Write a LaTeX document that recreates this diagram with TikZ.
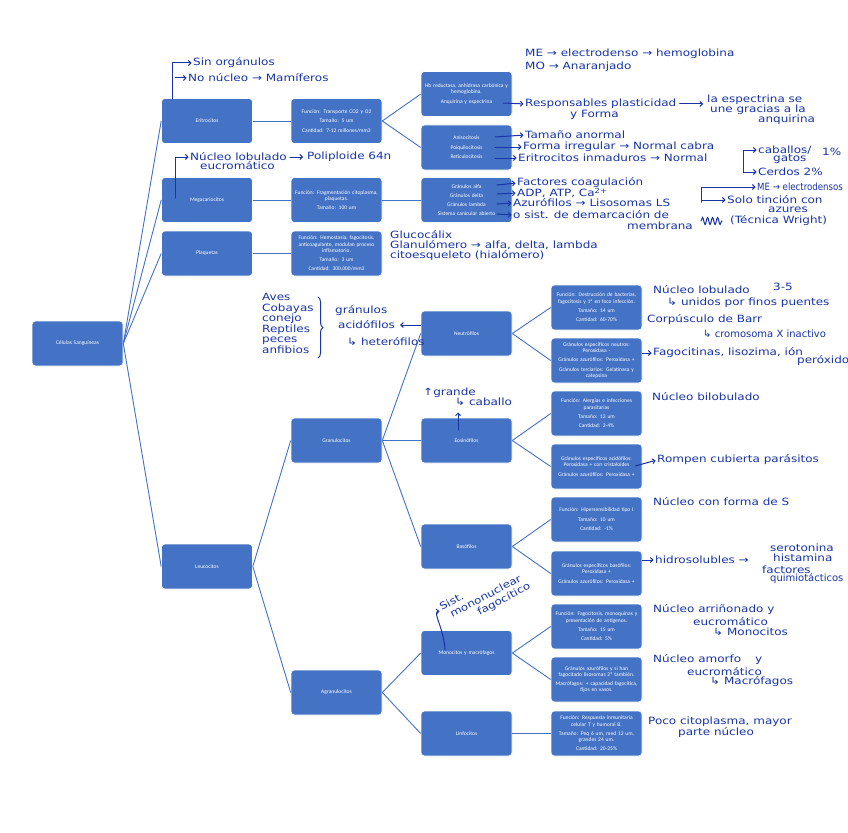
\documentclass[tikz,border=0pt]{standalone}
\usepackage{fontspec}
\setmainfont{Carlito}
\newfontfamily\bxfam{Carlito}
\newfontfamily\handfam[FakeStretch=1.2]{DejaVu Sans}
\newfontfamily\handcond[FakeStretch=0.86]{DejaVu Sans}
\newfontfamily\handplain{DejaVu Sans}
\usetikzlibrary{arrows.meta,decorations.pathreplacing,decorations.pathmorphing,calc}
\definecolor{boxblue}{RGB}{68,114,196}
\definecolor{ink}{RGB}{24,52,165}
\newcommand\bxfont{\bxfam\fontsize{5.5}{6.2}\selectfont}
\newcommand\hfont{\handfam\fontsize{10}{11}\selectfont}
\newcommand\hcfont{\handcond\fontsize{10}{11}\selectfont}
\newcommand\hpfont{\handplain\fontsize{10}{11}\selectfont}
\begin{document}
\begin{tikzpicture}[x=1pt,y=-1pt,
 box/.style={rectangle, rounded corners=3.5pt, fill=boxblue, draw=white, line width=0.6pt, minimum width=91pt, minimum height=45pt, text width=88pt, align=center, text=white, font=\bxfont, inner sep=0.5pt},
 conn/.style={draw=boxblue, line width=0.9pt},
 hand/.style={text=ink, font=\hfont, anchor=west, inner sep=0pt},
 handc/.style={hand, font=\hcfont},
 handp/.style={hand, font=\hpfont},
 harrow/.style={draw=ink, line width=1pt, line cap=round, -{Straight Barb[length=2.5pt,width=5pt]}, shorten >=1.5pt},
 inkline/.style={draw=ink, line width=1pt, line cap=round}
]
\fill[white] (0,0) rectangle (848,832);
\useasboundingbox (0,0) rectangle (848,832);

% ---------------- boxes ----------------
\node[box] (cel) at (77.5,343.5) {Células Sanguíneas};
\node[box] (eri) at (207,121) {Eritrocitos};
\node[box] (efun) at (336.5,121) {Función: Transporte CO2 y O2\\[3.2pt]Tamaño: 5 um\\[3.2pt]Cantidad: 7-12 millones/mm3};
\node[box] (mb) at (466.5,94) {Hb reductasa, anhidrasa carbónica y\\hemoglobina.\\[3.2pt]Anquirina y espectrina};
\node[box] (ani) at (466.5,147.5) {Anisocitosis\\[3.2pt]Poiquilocitosis\\[3.2pt]Reticulocitosis};
\node[box] (meg) at (207,200) {Megacariocitos};
\node[box] (megf) at (336.5,200) {Función: Fragmentación citoplasma,\\plaquetas.\\[3.2pt]Tamaño: 100 um};
\node[box] (gal) at (466.5,200) {Gránulos alfa\\[2.6pt]Gránulos delta\\[2.6pt]Gránulos lambda\\[2.6pt]Sistema canicular abierto};
\node[box] (pla) at (207,253.5) {Plaquetas};
\node[box] (pfun) at (336.5,253.5) {Función: Hemostasia, fagocitosis,\\anticoagulante, modulan proceso\\inflamatorio.\\[3pt]Tamaño: 3 um\\[3pt]Cantidad: 300.000/mm3};
\node[box] (neu) at (466.5,333.5) {Neutrófilos};
\node[box] (nfun) at (596.5,307.5) {Función: Destrucción de bacterias,\\fagocitosis y 1ª en foco infección.\\[3.2pt]Tamaño: 14 um\\[3.2pt]Cantidad: 60-70\%};
\node[box] (ngr) at (596.5,360.5) {Gránulos específicos neutros:\\Peroxidasa -\\[3pt]Gránulos azurófilos: Peroxidasa +\\[3pt]Gránulos terciarios: Gelatinasa y\\catepsina};
\node[box] (gra) at (336.5,440.5) {Granulocitos};
\node[box] (eos) at (466.5,440.5) {Eosinófilos};
\node[box] (efn) at (596.5,413.5) {Función: Alergias e infecciones\\parasitarias\\[3.2pt]Tamaño: 13 um\\[3.2pt]Cantidad: 2-4\%};
\node[box] (egr) at (596.5,466.5) {Gránulos específicos acidófilos:\\Peroxidasa + con cristaloides\\[3.2pt]Gránulos azurófilos: Peroxidasa +};
\node[box] (leu) at (207,566.5) {Leucocitos};
\node[box] (bas) at (466.5,546.5) {Basófilos};
\node[box] (bfn) at (596.5,519.5) {Función: Hipersensibilidad tipo I\\[3.2pt]Tamaño: 10 um\\[3.2pt]Cantidad: -1\%};
\node[box] (bgr) at (596.5,573.5) {Gránulos específicos basófilos:\\Peroxidasa +\\[3.2pt]Gránulos azurófilos: Peroxidasa +};
\node[box] (agr) at (336.5,692.5) {Agranulocitos};
\node[box] (mon) at (466.5,653) {Monocitos y macrófagos};
\node[box] (monf) at (596.5,626.5) {Función: Fagocitosis, monoquinas y\\presentación de antígenos.\\[3.2pt]Tamaño: 15 um\\[3.2pt]Cantidad: 5\%};
\node[box] (mong) at (596.5,679.5) {Gránulos azurófilos y si han\\fagocitado lisosomas 2º también.\\[3.2pt]Macrófagos: + capacidad fagocítica,\\fijos en vasos.};
\node[box] (lin) at (466.5,733.5) {Linfocitos};
\node[box] (lfn) at (596.5,733.5) {Función: Respuesta inmunitaria\\celular T y humoral B.\\[3pt]Tamaño: Peq 6 um, med 12 um,\\grandes 24 um.\\[3pt]Cantidad: 20-25\%};

% ---------------- connectors ----------------
\draw[conn] (cel.east) -- (eri.west);
\draw[conn] (cel.east) -- (meg.west);
\draw[conn] (cel.east) -- (pla.west);
\draw[conn] (cel.east) -- (leu.west);
\draw[conn] (eri) -- (efun);
\draw[conn] (efun.east) -- (mb.west);
\draw[conn] (efun.east) -- (ani.west);
\draw[conn] (meg) -- (megf);
\draw[conn] (megf) -- (gal);
\draw[conn] (pla) -- (pfun);
\draw[conn] (leu.east) -- (gra.west);
\draw[conn] (leu.east) -- (agr.west);
\draw[conn] (gra.east) -- (neu.west);
\draw[conn] (gra.east) -- (eos.west);
\draw[conn] (gra.east) -- (bas.west);
\draw[conn] (neu.east) -- (nfun.west);
\draw[conn] (neu.east) -- (ngr.west);
\draw[conn] (eos.east) -- (efn.west);
\draw[conn] (eos.east) -- (egr.west);
\draw[conn] (bas.east) -- (bfn.west);
\draw[conn] (bas.east) -- (bgr.west);
\draw[conn] (agr.east) -- (mon.west);
\draw[conn] (agr.east) -- (lin.west);
\draw[conn] (mon.east) -- (monf.west);
\draw[conn] (mon.east) -- (mong.west);
\draw[conn] (lin) -- (lfn);

% ---------------- handwritten notes ----------------
\node[hand] (h1) at (193,63) {Sin orgánulos};
\node[hand] (h2) at (188,78) {No núcleo → Mamíferos};
\node[hand] (h3) at (525,54) {ME → electrodenso → hemoglobina};
\node[hand] (h4) at (525,67) {MO → Anaranjado};
\node[hand] (h5) at (525,104) {Responsables plasticidad};
\node[hand] (h6) at (570,115) {y Forma};
\node[hand] (h7) at (707,100) {la espectrina se};
\node[hand] (h8) at (710,110) {une gracias a la};
\node[hand] (h9) at (758,120) {anquirina};
\node[hand] (h10) at (525,135) {Tamaño anormal};
\node[hand] (h11) at (523,147) {Forma irregular → Normal cabra};
\node[hand] (h12) at (518,158) {Eritrocitos inmaduros → Normal};
\node[hand] (h13) at (758,150) {caballos/};
\node[hand] (h14) at (773,159) {gatos};
\node[hand] (h15) at (822,152) {1\%};
\node[hand] (h16) at (758,172) {Cerdos 2\%};
\node[hand] (h17) at (517,183) {Factores coagulación};
\node[hand] (h18) at (517,193) {ADP, ATP, Ca\textsuperscript{2+}};
\node[hand] (h19) at (513,203) {Azurófilos → Lisosomas LS};
\node[hand] (h20) at (513,215) {o sist. de demarcación de};
\node[hand] (h21) at (627,226) {membrana};
\node[handc] (h22) at (757,187) {ME → electrodensos};
\node[hand] (h23) at (727,200) {Solo tinción con};
\node[hand] (h24) at (768,210) {azures};
\node[hand] (h25) at (730,221) {(Técnica Wright)};
\node[hand] (h26) at (390,235) {Glucocálix};
\node[hand] (h27) at (390,245) {Glanulómero → alfa, delta, lambda};
\node[hand] (h28) at (390,256) {citoesqueleto (hialómero)};
\node[hand] (h29) at (190,157) {Núcleo lobulado};
\node[hand] (h30) at (200,166) {eucromático};
\node[hand] (h31) at (307,157) {Poliploide 64n};
\node[hand, anchor=north west, align=left, font=\handfam\fontsize{10}{10.6}\selectfont] (list) at (262,293) {Aves\\Cobayas\\conejo\\Reptiles\\peces\\anfibios};
\node[hand] (h38) at (335,311) {gránulos};
\node[hand] (h39) at (338,325) {acidófilos};
\node[hand] (h40) at (347,342) {↳ heterófilos};
\node[hand] (h41) at (653,290) {Núcleo lobulado};
\node[hand] (h41b) at (773,287) {3-5};
\node[hand] (h42) at (667,303) {↳ unidos por finos puentes};
\node[hand] (h43) at (647,320) {Corpúsculo de Barr};
\node[handp] (h44) at (703,334) {↳ cromosoma X inactivo};
\node[hand] (h45) at (653,353) {Fagocitinas, lisozima, ión};
\node[hand] (h46) at (797,361) {peróxido};
\node[hand] (h47) at (423,393) {↑grande};
\node[hand] (h48) at (455,402) {↳ caballo};
\node[hand] (h49) at (652,397) {Núcleo bilobulado};
\node[hand] (h50) at (657,460) {Rompen cubierta parásitos};
\node[hand] (h51) at (653,502) {Núcleo con forma de S};
\node[hand] (h52) at (655,560) {hidrosolubles →};
\node[hand] (h53) at (770,548) {serotonina};
\node[hand] (h54) at (773,558) {histamina};
\node[hand] (h55) at (762,570) {factores};
\node[handp] (h56) at (770,579) {quimiotácticos};
\node[hand, anchor=north west, align=left, rotate=28, font=\handfam\fontsize{10}{11}\selectfont] (sist) at (438,604) {Sist.\\\hspace*{6pt}mononuclear\\\hspace*{31pt}fagocítico};
\node[hand] (h58) at (653,610) {Núcleo arriñonado y};
\node[hand] (h59) at (693,622) {eucromático};
\node[hand] (h60) at (713,632) {↳ Monocitos};
\node[hand] (h61) at (653,660) {Núcleo amorfo\hspace{14pt}y};
\node[hand] (h62) at (687,672) {eucromático};
\node[hand] (h63) at (710,682) {↳ Macrófagos};
\node[hand] (h64) at (648,722) {Poco citoplasma, mayor};
\node[hand] (h65) at (678,733) {parte núcleo};

% ---------------- handwritten arrows ----------------
\coordinate (eriS) at (172,99);
\draw[harrow] (eriS) |- (h1.west);
\draw[harrow] ([xshift=3pt]eriS |- h2.west) -- (h2.west);
\coordinate (megS) at (175,198);
\draw[harrow] (megS) |- (h29.west);
\draw[harrow, shorten <=3pt, shorten >=4pt] (h29.east) -- (h31.west);
\coordinate (mbA) at (503,103);
\draw[harrow] (mbA) -- (h5.west);
\draw[harrow, shorten <=3pt, shorten >=4pt] (h5.east) -- (h7.west |- h5.east);
\coordinate (aA) at (495,137);
\coordinate (aB) at (495,147);
\coordinate (aC) at (495,158);
\draw[harrow] (aA) -- (h10.west);
\draw[harrow] (aB) -- (h11.west);
\draw[harrow] (aC) -- (h12.west);
\coordinate (hbr) at (743,160);
\draw[harrow] (hbr) |- (h13.west);
\draw[harrow] (hbr) |- (h16.west);
\coordinate (gA) at (497,185);
\coordinate (gB) at (497,194);
\coordinate (gC) at (497,204);
\coordinate (gD) at (497,214);
\draw[harrow] (gA) -- (h17.west);
\draw[harrow] (gB) -- (h18.west);
\draw[harrow] (gC) -- (h19.west);
\draw[harrow] (gD) -- (h20.west);
\coordinate (lsb) at (701,202);
\draw[harrow] (lsb) |- (h22.west);
\draw[harrow] (lsb) |- (h23.west);
\draw[inkline, decorate, decoration={snake, amplitude=3.5pt, segment length=5pt}] (701,221) -- (722,221);
\draw[inkline, decorate, decoration={brace, amplitude=5pt}] (318,297) -- (318,358);
\draw[harrow, shorten >=5pt] (neu.west |- h39.east) -- (h39.east);
\coordinate (eosS) at (458,430);
\coordinate (eosU) at (458,411);
\draw[harrow] (eosS) -- (eosU);
\draw[harrow] (ngr.east |- h45.west) -- (h45.west);
\coordinate (egA) at (635,466);
\draw[harrow] (egA) -- (h50.west);
\draw[harrow] (bgr.east |- h52.west) -- (h52.west);
\coordinate (monS) at (445,650);
\coordinate (sistP) at (441,611);
\draw[harrow] (monS) .. controls (444,628) and (432,612) .. (sistP);
\end{tikzpicture}
\end{document}
